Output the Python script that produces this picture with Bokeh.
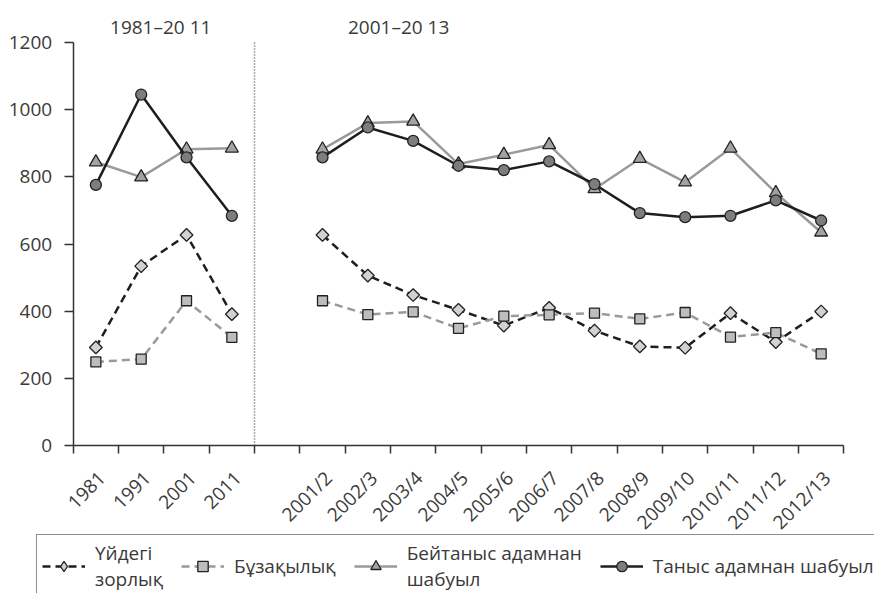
import math
import numpy as np
from bokeh.plotting import figure
from bokeh.models import Range1d, FixedTicker, Legend, LegendItem, Label
from bokeh.embed import file_html
from bokeh.resources import INLINE

# ---- data -------------------------------------------------------------
decades = ["1981", "1991", "2001", "2011"]
years = ["2001/2", "2002/3", "2003/4", "2004/5", "2005/6", "2006/7",
         "2007/8", "2008/9", "2009/10", "2010/11", "2011/12", "2012/13"]

domestic_census = [292, 534, 627, 391]
domestic_survey = [627, 506, 448, 404, 357, 410, 342, 295, 291, 394, 308, 399]

vandal_census = [249, 257, 431, 322]
vandal_survey = [431, 390, 398, 349, 385, 389, 394, 377, 396, 323, 336, 273]

stranger_census = [844, 799, 882, 885]
stranger_survey = [882, 960, 965, 838, 866, 895, 764, 854, 784, 885, 752, 635]

acquaint_census = [776, 1045, 858, 684]
acquaint_survey = [858, 947, 907, 833, 820, 846, 778, 692, 680, 684, 730, 670]

series_names = ["Үйдегі\nзорлық", "Бұзақылық", "Бейтаныс адамнан\nшабуыл",
                "Таныс адамнан шабуыл"]
section_titles = ["1981–20 11", "2001–20 13"]
y_ticks = [0, 200, 400, 600, 800, 1000, 1200]

# ---- layout -------------------------------------------------------------
FONT = "Open Sans"
TEXT = "#3a3a3a"
AXIS = "#333333"

W, H = 874, 593
n_left = len(decades)
n_total = n_left + 1 + len(years)
x_left = [i + 0.5 for i in range(n_left)]
x_right = [n_left + 1 + i + 0.5 for i in range(len(years))]

# pixel placement of the plotting area inside the canvas
px_left, px_right = 72.7, 843.3      # x = 0 .. n_total
px_zero, px_top = 445.0, 42.0        # y = 0 .. 1200
sx = (px_right - px_left) / n_total
sy = (px_zero - px_top) / y_ticks[-1]
x_range = Range1d(-px_left / sx, n_total + (W - px_right) / sx)
y_range = Range1d(-(H - px_zero) / sy, px_zero / sy)

p = figure(width=W, height=H, output_backend="svg", toolbar_location=None,
           x_range=x_range, y_range=y_range,
           min_border=0, min_border_left=0, min_border_right=0,
           min_border_top=0, min_border_bottom=0)
p.outline_line_color = None
p.xgrid.grid_line_color = None
p.ygrid.grid_line_color = None
p.background_fill_color = "white"
p.border_fill_color = "white"

styles = [
    dict(line_color="#1e1e1e", line_dash="8 5", marker="square", angle=math.pi / 4,
         size=9, fill="#d2d2d2", legend_marker="diamond"),
    dict(line_color="#9a9a9a", line_dash="8 5", marker="square", angle=0,
         size=10, fill="#bdbdbd", legend_marker="square"),
    dict(line_color="#9a9a9a", line_dash="solid", marker="triangle", angle=0,
         size=13, fill="#a3a3a3", legend_marker="triangle"),
    dict(line_color="#1e1e1e", line_dash="solid", marker="circle", angle=0,
         size=11, fill="#7d7d7d", legend_marker="circle"),
]
data = [
    (domestic_census, domestic_survey),
    (vandal_census, vandal_survey),
    (stranger_census, stranger_survey),
    (acquaint_census, acquaint_survey),
]

items = []
for name, st, (census, survey) in zip(series_names, styles, data):
    first_line = None
    for xs, ys in ((x_left, census), (x_right, survey)):
        lr = p.line(xs, ys, line_color=st["line_color"], line_width=2.5,
                    line_dash=st["line_dash"])
        p.scatter(xs, ys, marker=st["marker"], size=st["size"], angle=st["angle"],
                  fill_color=st["fill"], line_color="#222222", line_width=1.3)
        if first_line is None:
            first_line = lr
    # key marker used only in the legend (legend keys ignore marker angle);
    # its single NaN point is never drawn in the plot itself
    key = p.scatter(np.array([np.nan]), np.array([np.nan]), marker=st["legend_marker"],
                    fill_color=st["fill"], line_color="#222222", line_width=1.3)
    items.append(LegendItem(label=name, renderers=[first_line, key]))

# dotted divider between the two sections
p.segment(x0=[n_left], y0=[0], x1=[n_left], y1=[1206], line_color="#555555",
          line_width=1.5, line_dash="1 2")

# section titles
for tx, title in zip([1.93, 7.18], section_titles):
    p.add_layout(Label(x=tx, y=1245, text=title, text_align="center",
                       text_baseline="alphabetic", text_font=FONT,
                       text_font_size="19px", text_color=TEXT))

# axes drawn inside the canvas at fixed positions
label_shift = 0.13
xa = p.xaxis[0]
xa.fixed_location = 0
xa.bounds = (0, n_total)
xa.ticker = FixedTicker(ticks=[x + label_shift for x in x_left + x_right],
                        minor_ticks=list(range(n_total + 1)))
xa.major_label_overrides = {x + label_shift: lab
                            for x, lab in zip(x_left + x_right, decades + years)}
xa.major_tick_line_color = None
xa.major_tick_out = 0
xa.major_tick_in = 0
xa.minor_tick_line_color = AXIS
xa.minor_tick_line_width = 1.5
xa.minor_tick_out = 8
xa.minor_tick_in = 0
xa.major_label_orientation = math.pi / 4
xa.major_label_standoff = 21
xa.axis_line_color = AXIS
xa.axis_line_width = 1.5
xa.major_label_text_font = FONT
xa.major_label_text_font_size = "19px"
xa.major_label_text_color = TEXT

ya = p.yaxis[0]
ya.fixed_location = 0
ya.ticker = FixedTicker(ticks=y_ticks, minor_ticks=[])
ya.bounds = (y_ticks[0], y_ticks[-1])
ya.major_tick_line_color = AXIS
ya.major_tick_line_width = 1.5
ya.major_tick_out = 9
ya.major_tick_in = 0
ya.minor_tick_line_color = None
ya.axis_line_color = AXIS
ya.axis_line_width = 1.5
ya.major_label_standoff = 12
ya.major_label_text_font = FONT
ya.major_label_text_font_size = "19px"
ya.major_label_text_color = TEXT

legend = Legend(items=items, orientation="horizontal", location=(36, -5),
                border_line_color="#222222", border_line_width=1,
                background_fill_color="white", background_fill_alpha=1,
                padding=5, spacing=18, margin=0, label_standoff=10,
                glyph_width=43, glyph_height=26,
                label_text_font=FONT, label_text_font_size="19px",
                label_text_line_height=1.05,
                label_text_color=TEXT)
p.add_layout(legend, "center")

open("out.html", "w").write(file_html(p, INLINE))
